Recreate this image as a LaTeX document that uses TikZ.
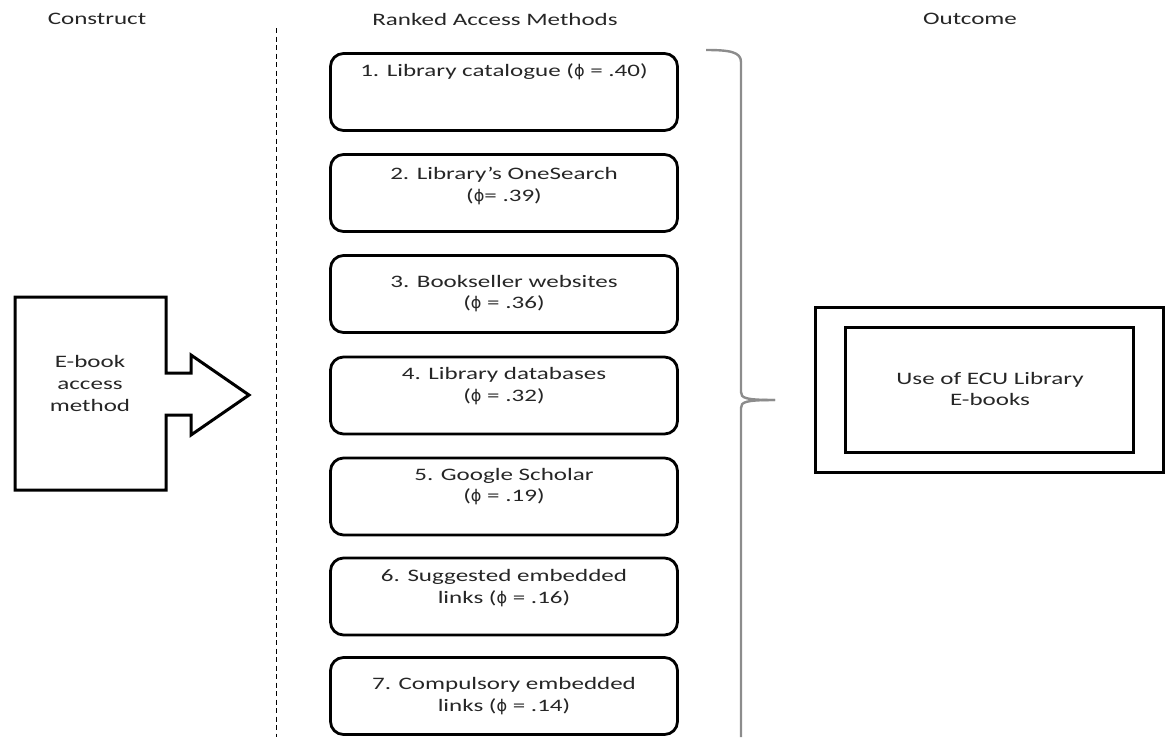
\documentclass[tikz,border=0pt]{standalone}
\usepackage{fontspec}
\setmainfont{Carlito}[FakeStretch=1.43]
\newfontfamily\phifont{DejaVu Sans}[Scale=0.92]
\newcommand{\phisym}{{\phifont ϕ}}
\begin{document}
\begin{tikzpicture}[x=1pt,y=-1pt,
  txt/.style={font=\fontsize{17.5}{21.8}\selectfont, text=black!85, align=center},
  method/.style={draw, line width=2.8pt, rounded corners=13pt, minimum width=347pt, minimum height=77pt, inner sep=0pt},
  heavy/.style={draw, line width=3pt},
  bracket/.style={draw=black!45, line width=2.4pt}]
\useasboundingbox (0,0) rectangle (1166,737);

% column headings
\node[txt] (hcon) at (97,19) {Construct};
\node[txt] (hram) at (495,19) {Ranked Access Methods};
\node[txt] (hout) at (970,19) {Outcome};

% dashed separator
\coordinate (sepT) at (276,28);
\coordinate (sepB) at (276,737);
\draw[line width=1pt, dash pattern=on 5pt off 3.5pt] (sepT) -- (sepB);

% construct: box with outgoing arrow
\draw[heavy, line join=miter] (15,297) -- (166,297) -- (166,373) -- (191,373) -- (191,355)
  -- (249,395) -- (191,435) -- (191,415) -- (166,415) -- (166,490) -- (15,490) -- cycle;
\node[txt] (con) at (90,383.5) {E-book\\access\\method};

% ranked methods
\foreach \i/\y in {1/92, 2/193, 3/294, 4/395.5, 5/496.5, 6/596.5, 7/696}
  \node[method] (m\i) at (504,\y) {};
\node[txt] (t1) at ([yshift=-20pt]m1.north) {1. Library catalogue (\phisym{} = .40)};
\node[txt] (t2) at ([yshift=7pt]m2.center) {2. Library’s OneSearch\\(\phisym{}= .39)};
\node[txt] (t3) at ([yshift=0.5pt]m3.center) {3. Bookseller websites\\(\phisym{} = .36)};
\node[txt] (t4) at ([yshift=9.5pt]m4.center) {4. Library databases\\(\phisym{} = .32)};
\node[txt] (t5) at ([yshift=10pt]m5.center) {5. Google Scholar\\(\phisym{} = .19)};
\node[txt] (t6) at ([yshift=8.5pt]m6.center) {6. Suggested embedded\\links (\phisym{} = .16)};
\node[txt] (t7) at ([yshift=0pt]m7.center) {7. Compulsory embedded\\links (\phisym{} = .14)};

% grouping brace
\coordinate (bT) at (706,50);
\coordinate (bM) at (775,400);
\coordinate (bB) at (741,737);
\draw[bracket] (bT) .. controls (730,50) and (741,52) .. (741,62) -- (741,392)
  .. controls (741,398) and (745,400) .. (bM);
\draw[bracket] (bM) .. controls (745,400) and (741,402) .. (741,408) -- (bB);

% outcome: double frame
\node[heavy, minimum width=348pt, minimum height=165pt, inner sep=0pt] (oo) at (989,389.5) {};
\node[heavy, minimum width=288pt, minimum height=125pt, inner sep=0pt] (oi) at (oo.center) {};
\node[txt] (out) at (990,389) {Use of ECU Library\\E-books};
\end{tikzpicture}
\end{document}
